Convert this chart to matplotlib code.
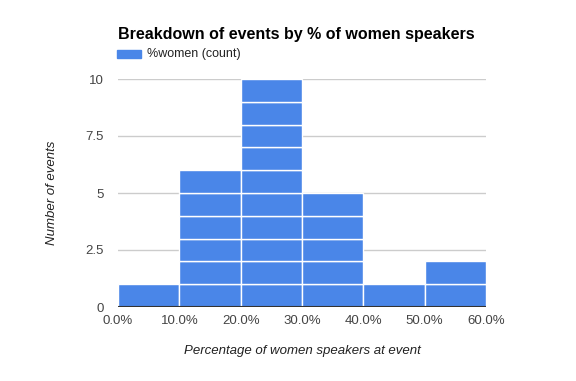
import numpy as np
import matplotlib
matplotlib.use("Agg")
import matplotlib.pyplot as plt
from matplotlib.patches import Rectangle

plt.rcParams['font.family'] = ['Liberation Sans', 'DejaVu Sans']

# histogram data
bin_edges = [0, 10, 20, 30, 40, 50, 60]
counts = [1, 6, 10, 5, 1, 2]
y_ticks = [0, 2.5, 5, 7.5, 10]
y_tick_labels = ['0', '2.5', '5', '7.5', '10']
x_tick_labels = ['0.0%', '10.0%', '20.0%', '30.0%', '40.0%', '50.0%', '60.0%']

blue = '#4a86e8'
text_col = '#444444'

fig = plt.figure(figsize=(5.76, 3.81), dpi=100)
ax = fig.add_axes([118 / 576, 74 / 381, 368 / 576, 228 / 381])

# each event is drawn as one unit block, stacked per bin
for left, right, n in zip(bin_edges[:-1], bin_edges[1:], counts):
    for k in range(n):
        ax.bar(left, 1, width=right - left, bottom=k, align='edge',
               color=blue, edgecolor='white', linewidth=1.0, zorder=2)

ax.set_xlim(bin_edges[0], bin_edges[-1])
ax.set_ylim(0, 10)
ax.set_yticks(y_ticks)
ax.set_yticklabels(y_tick_labels)
ax.set_xticks(bin_edges)
ax.set_xticklabels(x_tick_labels)
ax.tick_params(length=0, labelsize=9.5, colors=text_col)
ax.tick_params(axis='y', pad=10)
ax.tick_params(axis='x', pad=6)
ax.grid(axis='y', color='#cccccc', linewidth=1, zorder=0)
ax.axhline(0, color='#333333', linewidth=1.5, zorder=3)
for s in ax.spines.values():
    s.set_visible(False)

ax.set_ylabel('Number of events', fontsize=9.5, style='italic', color='#222222', labelpad=20)
ax.set_xlabel('Percentage of women speakers at event', fontsize=9.5, style='italic',
              color='#222222', labelpad=13)

fig.text(118 / 576, 1 - 35 / 381, 'Breakdown of events by % of women speakers',
         fontsize=11.5, fontweight='bold', va='center', ha='left', color='black')
fig.patches.append(Rectangle((117 / 576, 1 - 58 / 381), 24 / 576, 8 / 381,
                             transform=fig.transFigure, color=blue))
fig.text(147 / 576, 1 - 54 / 381, '%women (count)', fontsize=9, va='center',
         ha='left', color='#222222')

fig.savefig('out.png', dpi=100)
